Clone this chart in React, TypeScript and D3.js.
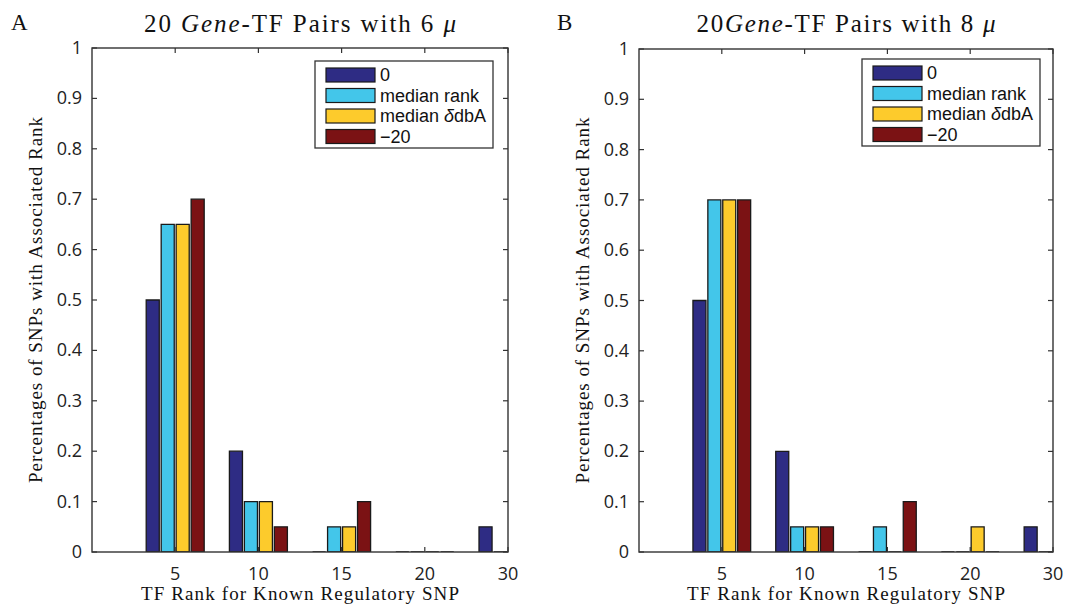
import React from 'react';
import * as d3 from 'd3';

const rankLabels = ['5', '10', '15', '20', '30'];
const seriesNames = ['0', 'median rank', 'median δdbA', '−20'];
const seriesColors = ['#2e2c84', '#43c6ea', '#fdcb2c', '#7b1214'];
const yTickValues = [0, 0.1, 0.2, 0.3, 0.4, 0.5, 0.6, 0.7, 0.8, 0.9, 1];

const panelAZero = [0.5, 0.2, 0, 0, 0.05];
const panelAMedianRank = [0.65, 0.1, 0.05, 0, 0];
const panelAMedianDdba = [0.65, 0.1, 0.05, 0, 0];
const panelAMinus20 = [0.7, 0.05, 0.1, 0, 0];

const panelBZero = [0.5, 0.2, 0, 0, 0.05];
const panelBMedianRank = [0.7, 0.05, 0.05, 0, 0];
const panelBMedianDdba = [0.7, 0.05, 0, 0.05, 0];
const panelBMinus20 = [0.7, 0.05, 0.1, 0, 0];

const SERIF = '"Liberation Serif", "DejaVu Serif", serif';
const SANS = '"Open Sans", "Liberation Sans", sans-serif';
const LEGEND_SANS = '"Liberation Sans", "Open Sans", sans-serif';
const AXIS = '#333';

type PanelProps = {
  id: string;
  letter: string;
  letterX: number;
  left: number;
  right: number;
  top: number;
  bottom: number;
  titlePrefix: string;
  muNumber: string;
  titleLength: number;
  series: number[][];
  legendX: number;
  legendY: number;
};

function Panel(p: PanelProps) {
  const x = d3.scaleLinear().domain([0, 5]).range([p.left, p.right]);
  const y = d3.scaleLinear().domain([0, 1]).range([p.bottom, p.top]);
  const pitch = 0.18;
  const barW = 0.157;
  const cx = (p.left + p.right) / 2;
  const cy = (p.top + p.bottom) / 2;
  const tickLen = 5;
  const clipId = `clip-${p.id}`;

  const bars: React.ReactNode[] = [];
  p.series.forEach((vals, s) => {
    vals.forEach((v, g) => {
      const center = g + 1 + (s - 1.5) * pitch;
      const x0 = x(center - barW / 2);
      const x1 = x(center + barW / 2);
      const y0 = y(0);
      const y1 = y(v);
      const path = d3.path();
      path.moveTo(x0, y0);
      path.lineTo(x1, y0);
      path.lineTo(x1, y1);
      path.lineTo(x0, y1);
      path.closePath();
      bars.push(
        <path
          key={`${s}-${g}`}
          d={path.toString()}
          fill={seriesColors[s]}
          stroke="#1a1a1a"
          strokeWidth={1.3}
        />
      );
    });
  });

  const legendW = 178;
  const rowH = 20.5;
  return (
    <g>
      <defs>
        <clipPath id={clipId}>
          <rect x={p.left} y={p.top} width={p.right - p.left} height={p.bottom - p.top} />
        </clipPath>
      </defs>
      <text x={p.letterX} y={30} fontFamily={SERIF} fontSize={23} fill="#111">
        {p.letter}
      </text>
      <text
        x={cx - p.titleLength / 2}
        y={32}
        fontFamily={SERIF}
        fontSize={25}
        fill="#111"
        textLength={p.titleLength}
        lengthAdjust="spacing"
      >
        {p.titlePrefix}
        <tspan fontStyle="italic">Gene</tspan>
        {`-TF Pairs with ${p.muNumber} `}
        <tspan fontStyle="italic">μ</tspan>
      </text>
      <g clipPath={`url(#${clipId})`}>{bars}</g>
      <rect
        x={p.left}
        y={p.top}
        width={p.right - p.left}
        height={p.bottom - p.top}
        fill="none"
        stroke={AXIS}
        strokeWidth={1.4}
      />
      {yTickValues.map((t) => (
        <g key={`y${t}`}>
          <line x1={p.left} x2={p.left + tickLen} y1={y(t)} y2={y(t)} stroke={AXIS} strokeWidth={1.2} />
          <line x1={p.right} x2={p.right - tickLen} y1={y(t)} y2={y(t)} stroke={AXIS} strokeWidth={1.2} />
          <text
            x={p.left - 10}
            y={y(t) + 6}
            textAnchor="end"
            fontFamily={SANS}
            fontSize={18}
            fill="#222"
          >
            {d3.format('~g')(t)}
          </text>
        </g>
      ))}
      {rankLabels.map((lab, i) => (
        <g key={`x${lab}`}>
          <line x1={x(i + 1)} x2={x(i + 1)} y1={p.bottom} y2={p.bottom - tickLen} stroke={AXIS} strokeWidth={1.2} />
          <line x1={x(i + 1)} x2={x(i + 1)} y1={p.top} y2={p.top + tickLen} stroke={AXIS} strokeWidth={1.2} />
          <text x={x(i + 1)} y={p.bottom + 28} textAnchor="middle" fontFamily={SANS} fontSize={18} fill="#222">
            {lab}
          </text>
        </g>
      ))}
      <text
        x={cx - 159}
        y={600}
        fontFamily={SERIF}
        fontSize={19}
        fill="#111"
        textLength={318}
        lengthAdjust="spacing"
      >
        TF Rank for Known Regulatory SNP
      </text>
      <text
        transform={`translate(${p.left - 50},${cy + 183}) rotate(-90)`}
        fontFamily={SERIF}
        fontSize={19}
        fill="#111"
        textLength={366}
        lengthAdjust="spacing"
      >
        Percentages of SNPs with Associated Rank
      </text>
      <g transform={`translate(${p.legendX},${p.legendY})`}>
        <rect x={0} y={0} width={legendW} height={87} fill="#fff" stroke={AXIS} strokeWidth={1.3} />
        {seriesNames.map((name, s) => (
          <g key={name} transform={`translate(0,${3 + s * rowH})`}>
            <rect x={11} y={4} width={49} height={14} fill={seriesColors[s]} stroke="#1a1a1a" strokeWidth={1.2} />
            <text x={65} y={17} fontFamily={LEGEND_SANS} fontSize={18} fill="#111">
              {name === 'median δdbA' ? (
                <>
                  median <tspan fontStyle="italic">δ</tspan>dbA
                </>
              ) : (
                name
              )}
            </text>
          </g>
        ))}
      </g>
    </g>
  );
}

export default function App() {
  return (
    <svg
      width={1068}
      height={607}
      style={{ position: 'absolute', left: 0, top: 0, background: '#fff' }}
    >
      <rect width={1068} height={607} fill="#fff" />
      <Panel
        id="A"
        letter="A"
        letterX={11}
        left={92}
        right={508}
        top={48}
        bottom={552}
        titlePrefix="20 "
        muNumber="6"
        titleLength={312}
        series={[panelAZero, panelAMedianRank, panelAMedianDdba, panelAMinus20]}
        legendX={315}
        legendY={61}
      />
      <Panel
        id="B"
        letter="B"
        letterX={557}
        left={639}
        right={1053}
        top={49}
        bottom={552}
        titlePrefix="20"
        muNumber="8"
        titleLength={299}
        series={[panelBZero, panelBMedianRank, panelBMedianDdba, panelBMinus20]}
        legendX={862}
        legendY={59}
      />
    </svg>
  );
}
